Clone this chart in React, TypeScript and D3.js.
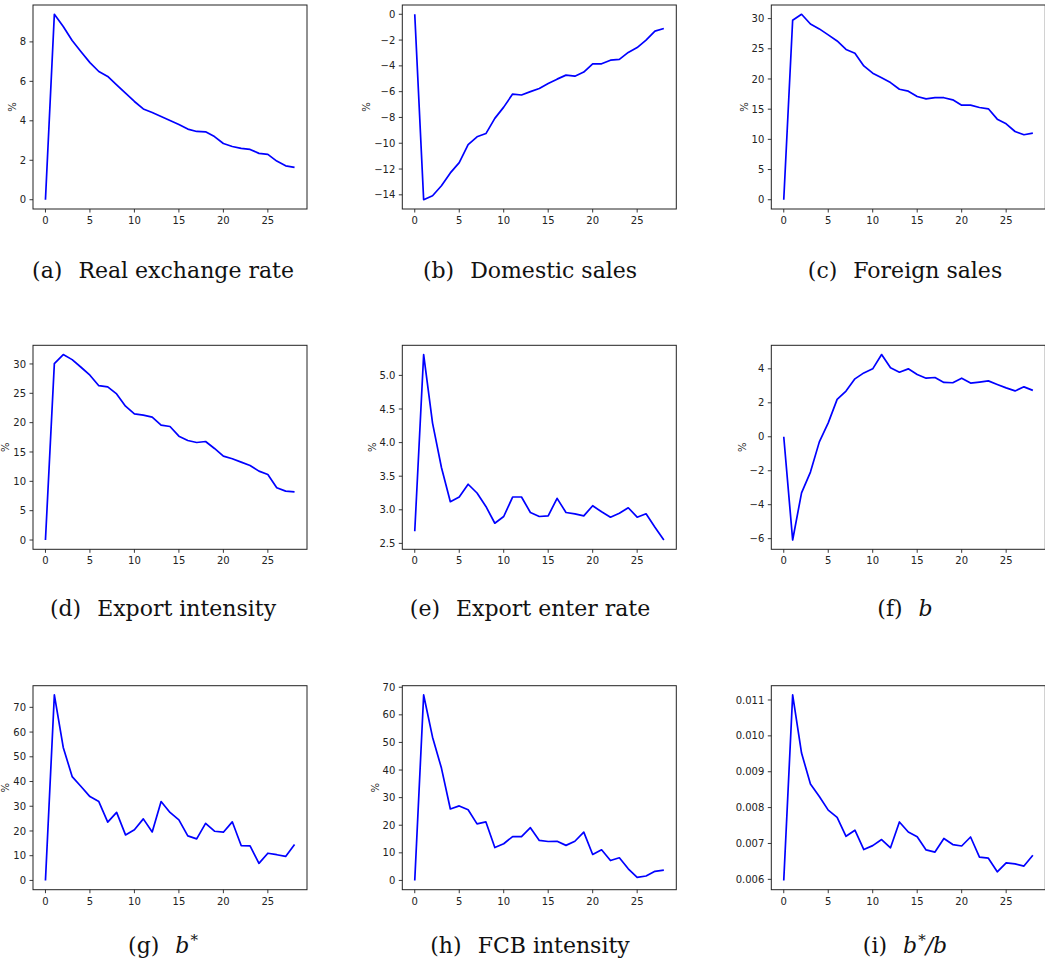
import React from "react";
import * as d3 from "d3";

// Horizon (periods after the shock)
const horizons = [
  0, 1, 2, 3, 4, 5, 6, 7, 8, 9, 10, 11, 12, 13, 14, 15, 16, 17, 18, 19, 20,
  21, 22, 23, 24, 25, 26, 27, 28,
];

// Impulse responses, one series per panel
const realExchangeRate = [
  0, 9.4, 8.78, 8.07, 7.5, 6.95, 6.5, 6.25, 5.82, 5.4, 4.98, 4.6, 4.42, 4.22,
  4.02, 3.81, 3.58, 3.46, 3.44, 3.2, 2.85, 2.7, 2.6, 2.55, 2.35, 2.3, 1.96,
  1.72, 1.64,
];
const domesticSales = [
  0, -14.38, -14.07, -13.3, -12.3, -11.5, -10.1, -9.5, -9.25, -8.07, -7.2,
  -6.19, -6.26, -6.0, -5.75, -5.36, -5.03, -4.72, -4.8, -4.48, -3.84, -3.84,
  -3.56, -3.5, -2.96, -2.58, -2.0, -1.31, -1.1,
];
const foreignSales = [
  0, 29.73, 30.72, 29.1, 28.3, 27.3, 26.3, 24.9, 24.27, 22.17, 20.96, 20.2,
  19.4, 18.3, 17.98, 17.1, 16.7, 16.9, 16.9, 16.55, 15.66, 15.66, 15.28, 15.06,
  13.35, 12.58, 11.3, 10.76, 11.03,
];
const exportIntensity = [
  0, 30.06, 31.6, 30.74, 29.44, 28.08, 26.3, 26.09, 24.9, 22.8, 21.5, 21.27,
  20.93, 19.57, 19.34, 17.7, 16.96, 16.62, 16.79, 15.6, 14.3, 13.84, 13.27,
  12.7, 11.74, 11.17, 8.9, 8.34, 8.22,
];
const exportEnterRate = [
  2.68, 5.31, 4.29, 3.63, 3.12, 3.19, 3.38, 3.25, 3.05, 2.8, 2.9, 3.19, 3.19,
  2.96, 2.9, 2.91, 3.17, 2.96, 2.94, 2.91, 3.06, 2.97, 2.89, 2.95, 3.03, 2.89,
  2.94, 2.74, 2.55,
];
const domesticDebt = [
  0, -6.08, -3.3, -2.08, -0.3, 0.82, 2.2, 2.69, 3.41, 3.76, 4.0, 4.84, 4.06,
  3.8, 4.0, 3.67, 3.45, 3.49, 3.2, 3.18, 3.45, 3.16, 3.22, 3.29, 3.08, 2.88,
  2.7, 2.94, 2.73,
];
const foreignDebt = [
  0, 75, 53.8, 42, 38, 33.9, 31.9, 23.6, 27.5, 18.4, 20.5, 24.9, 19.6, 31.9,
  27.5, 24.5, 18.0, 16.8, 23.1, 19.9, 19.5, 23.7, 14.1, 14.0, 6.9, 11.0, 10.4,
  9.7, 14.5,
];
const fcbIntensity = [
  0, 67.2, 51.9, 40.7, 25.9, 27.0, 25.6, 20.5, 21.2, 11.9, 13.3, 15.9, 15.9,
  19.1, 14.5, 14.1, 14.2, 12.7, 14.2, 17.5, 9.4, 11.1, 7.2, 8.2, 4.2, 1.1, 1.6,
  3.3, 3.7,
];
const debtRatio = [
  0.00597, 0.01114, 0.00952, 0.00866, 0.00831, 0.00793, 0.00773, 0.0072,
  0.00737, 0.00683, 0.00694, 0.00711, 0.00688, 0.0076, 0.00732, 0.00719,
  0.00682, 0.00676, 0.00714, 0.00697, 0.00693, 0.00718, 0.00662, 0.00659,
  0.00621, 0.00646, 0.00643, 0.00637, 0.00667,
];

// Tick values
const xTicks = [0, 5, 10, 15, 20, 25];
const ticksA = [0, 2, 4, 6, 8];
const ticksB = [0, -2, -4, -6, -8, -10, -12, -14];
const ticksC = [0, 5, 10, 15, 20, 25, 30];
const ticksD = [0, 5, 10, 15, 20, 25, 30];
const ticksE = [2.5, 3.0, 3.5, 4.0, 4.5, 5.0];
const ticksF = [-6, -4, -2, 0, 2, 4];
const ticksG = [0, 10, 20, 30, 40, 50, 60, 70];
const ticksH = [0, 10, 20, 30, 40, 50, 60, 70];
const ticksI = [0.006, 0.007, 0.008, 0.009, 0.01, 0.011];

type Part = { text: string; italic?: boolean; sup?: boolean };

const fmtInt = d3.format("d");
const fmt1 = d3.format(".1f");
const fmt3 = d3.format(".3f");

const panels: {
  values: number[];
  ticks: number[];
  fmt: (v: number) => string;
  ylabel: string | null;
  label: string;
  caption: Part[];
}[] = [
  { values: realExchangeRate, ticks: ticksA, fmt: fmtInt, ylabel: "%", label: "(a)", caption: [{ text: "Real exchange rate" }] },
  { values: domesticSales, ticks: ticksB, fmt: fmtInt, ylabel: "%", label: "(b)", caption: [{ text: "Domestic sales" }] },
  { values: foreignSales, ticks: ticksC, fmt: fmtInt, ylabel: "%", label: "(c)", caption: [{ text: "Foreign sales" }] },
  { values: exportIntensity, ticks: ticksD, fmt: fmtInt, ylabel: "%", label: "(d)", caption: [{ text: "Export intensity" }] },
  { values: exportEnterRate, ticks: ticksE, fmt: fmt1, ylabel: "%", label: "(e)", caption: [{ text: "Export enter rate" }] },
  { values: domesticDebt, ticks: ticksF, fmt: fmtInt, ylabel: "%", label: "(f)", caption: [{ text: "b", italic: true }] },
  { values: foreignDebt, ticks: ticksG, fmt: fmtInt, ylabel: "%", label: "(g)", caption: [{ text: "b", italic: true }, { text: "*", sup: true }] },
  { values: fcbIntensity, ticks: ticksH, fmt: fmtInt, ylabel: "%", label: "(h)", caption: [{ text: "FCB intensity" }] },
  { values: debtRatio, ticks: ticksI, fmt: fmt3, ylabel: null, label: "(i)", caption: [{ text: "b", italic: true }, { text: "*", sup: true }, { text: "/", italic: true }, { text: "b", italic: true }] },
];

// Grid geometry
const W = 1045;
const H = 973;
const colLeft = [33, 402.3, 771.3];
const rowTop = [5, 345.3, 685.7];
const axW = 274;
const axH = 204;
const captionX = [163, 530, 905];
const captionY = [278, 616, 953];

const TICK = 3.5;
const PAD = 3.5;
const TICK_FS = 10;
const INK = "#222";
const SANS = "DejaVu Sans, sans-serif";
const SERIF = "DejaVu Serif, serif";

// DejaVu Sans advance widths for tick label strings
function labelWidth(s: string): number {
  let w = 0;
  for (const ch of s) {
    if (ch === "\u2212" || ch === "-") w += 0.838;
    else if (ch === ".") w += 0.318;
    else w += 0.636;
  }
  return w * TICK_FS;
}

function Panel({ idx }: { idx: number }) {
  const p = panels[idx];
  const col = idx % 3;
  const row = Math.floor(idx / 3);
  const left = colLeft[col];
  const top = rowTop[row];

  const [x0, x1] = d3.extent(horizons) as [number, number];
  const xm = (x1 - x0) * 0.05;
  const x = d3.scaleLinear().domain([x0 - xm, x1 + xm]).range([left, left + axW]);

  const [y0, y1] = d3.extent(p.values) as [number, number];
  const ym = (y1 - y0) * 0.05;
  const y = d3.scaleLinear().domain([y0 - ym, y1 + ym]).range([top + axH, top]);

  const line = d3
    .line<number>()
    .x((_, i) => x(horizons[i]))
    .y((d) => y(d));

  const maxW = d3.max(p.ticks, (t) => labelWidth(p.fmt(t))) || 0;
  const ylabelX = left - TICK - PAD - maxW - 7.5;

  return (
    <g>
      <path d={line(p.values) || ""} fill="none" stroke="#0000ff" strokeWidth={1.7} strokeLinejoin="round" />
      <rect x={left} y={top} width={axW} height={axH} fill="none" stroke={INK} strokeWidth={1} />
      {xTicks.map((t) => (
        <g key={"x" + t}>
          <line x1={x(t)} x2={x(t)} y1={top + axH} y2={top + axH + TICK} stroke={INK} strokeWidth={0.9} />
          <text x={x(t)} y={top + axH + 15} textAnchor="middle" fontFamily={SANS} fontSize={TICK_FS} fill={INK}>
            {fmtInt(t)}
          </text>
        </g>
      ))}
      {p.ticks.map((t) => (
        <g key={"y" + t}>
          <line x1={left - TICK} x2={left} y1={y(t)} y2={y(t)} stroke={INK} strokeWidth={0.9} />
          <text x={left - TICK - PAD} y={y(t)} dy="0.36em" textAnchor="end" fontFamily={SANS} fontSize={TICK_FS} fill={INK}>
            {p.fmt(t)}
          </text>
        </g>
      ))}
      {p.ylabel && (
        <text
          transform={`translate(${ylabelX},${top + axH / 2}) rotate(-90)`}
          textAnchor="middle"
          dy="0.36em"
          fontFamily={SANS}
          fontSize={TICK_FS}
          fill={INK}
        >
          {p.ylabel}
        </text>
      )}
      <text x={captionX[col]} y={captionY[row]} textAnchor="middle" fontFamily={SERIF} fontSize={22} fill="#111">
        <tspan>{p.label}</tspan>
        {p.caption.map((c, i) => (
          <tspan
            key={i}
            dx={i === 0 ? 16 : c.sup ? 1 : 0}
            dy={c.sup ? -8 : i > 0 && p.caption[i - 1].sup ? 8 : 0}
            fontStyle={c.italic ? "italic" : "normal"}
            fontSize={c.sup ? 15 : 22}
          >
            {c.text}
          </tspan>
        ))}
      </text>
    </g>
  );
}

export default function App() {
  return (
    <svg
      width={W}
      height={H}
      viewBox={`0 0 ${W} ${H}`}
      style={{ position: "absolute", left: 0, top: 0, background: "#fff" }}
    >
      <rect width={W} height={H} fill="#fff" />
      {panels.map((_, i) => (
        <Panel key={i} idx={i} />
      ))}
    </svg>
  );
}
